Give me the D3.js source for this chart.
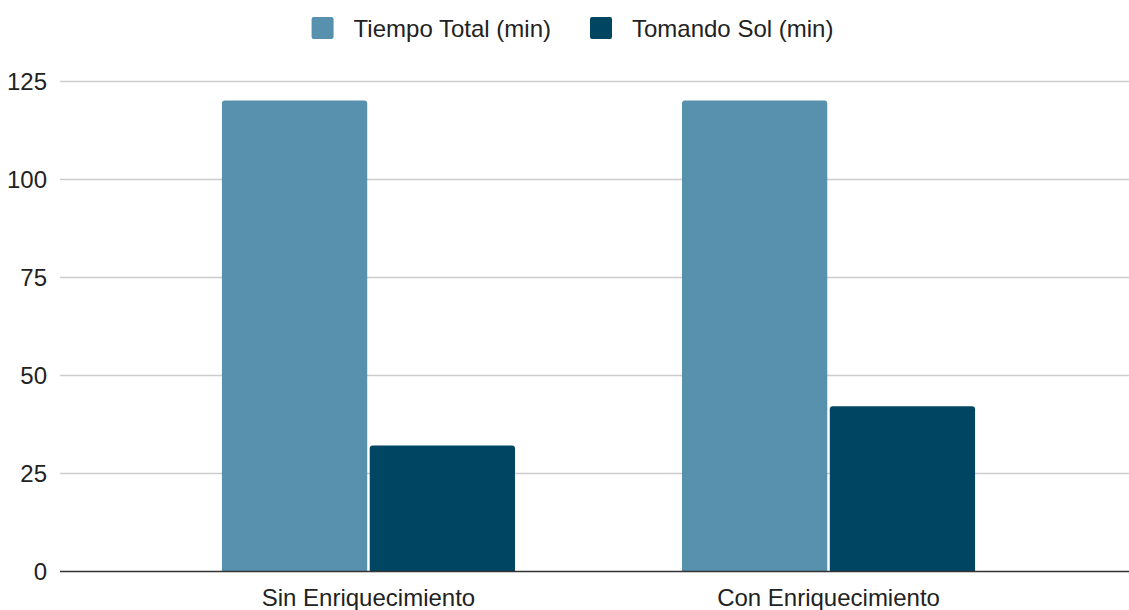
<!DOCTYPE html>
<html>
<head>
<meta charset="utf-8">
<script src="https://cdn.jsdelivr.net/npm/d3@7"></script>
<style>
  body { margin: 0; background: #fff; }
  text { font-family: Arial, "Liberation Sans", sans-serif; fill: #222; }
</style>
</head>
<body>
<div id="chart"></div>
<script>
// Chart data
const categories = ['Sin Enriquecimiento', 'Con Enriquecimiento'];
const seriesNames = ['Tiempo Total (min)', 'Tomando Sol (min)'];
const tiempoTotal = [120, 120];
const tomandoSol = [32, 42];
const yTicks = [0, 25, 50, 75, 100, 125];

const colors = ['#5891ad', '#004561'];
const width = 1129, height = 610;
const fontSize = 24;

const svg = d3.select('#chart').append('svg')
  .attr('width', width)
  .attr('height', height);

const rows = categories.map((c, i) => ({ cat: c, values: [tiempoTotal[i], tomandoSol[i]] }));

const y = d3.scaleLinear().domain([0, 125]).range([571, 81]);

const x0 = d3.scaleBand()
  .domain(categories)
  .range([60, 1137])
  .paddingInner(0.363)
  .paddingOuter(0.352);

const x1 = d3.scaleBand()
  .domain(seriesNames)
  .range([0, x0.bandwidth()])
  .paddingInner(0.017);

// gridlines
svg.append('g')
  .selectAll('line')
  .data(yTicks.filter(d => d > 0))
  .join('line')
  .attr('x1', 60).attr('x2', width)
  .attr('y1', d => Math.round(y(d)) + 0.5)
  .attr('y2', d => Math.round(y(d)) + 0.5)
  .attr('stroke', '#cccccc')
  .attr('stroke-width', 1.3);

// y tick labels
svg.append('g')
  .selectAll('text')
  .data(yTicks)
  .join('text')
  .attr('x', 47)
  .attr('y', d => y(d) + 8.5)
  .attr('text-anchor', 'end')
  .attr('font-size', fontSize)
  .text(d => d);

// bars (rounded top corners)
const r = 3;
function barPath(x, y0, w, yTop) {
  return `M${x},${y0}V${yTop + r}Q${x},${yTop} ${x + r},${yTop}H${x + w - r}Q${x + w},${yTop} ${x + w},${yTop + r}V${y0}Z`;
}

const groups = svg.append('g')
  .selectAll('g')
  .data(rows)
  .join('g')
  .attr('transform', d => `translate(${x0(d.cat)},0)`);

groups.selectAll('path')
  .data(d => d.values.map((v, i) => ({ key: seriesNames[i], v, i })))
  .join('path')
  .attr('d', d => barPath(x1(d.key), y(0), x1.bandwidth(), y(d.v)))
  .attr('fill', d => colors[d.i]);

// baseline
svg.append('line')
  .attr('x1', 60).attr('x2', width)
  .attr('y1', 571.5).attr('y2', 571.5)
  .attr('stroke', '#333')
  .attr('stroke-width', 1.5);

// x labels
svg.append('g')
  .selectAll('text')
  .data(categories)
  .join('text')
  .attr('x', d => x0(d) + x0.bandwidth() / 2)
  .attr('y', 606)
  .attr('text-anchor', 'middle')
  .attr('font-size', fontSize)
  .text(d => d);

// legend
const legend = svg.append('g');
let lx = 0;
seriesNames.forEach((name, i) => {
  const g = legend.append('g').attr('transform', `translate(${lx},0)`);
  g.append('rect')
    .attr('x', 0).attr('y', 17)
    .attr('width', 22).attr('height', 22)
    .attr('rx', 2)
    .attr('fill', colors[i]);
  const t = g.append('text')
    .attr('x', 42).attr('y', 37)
    .attr('font-size', fontSize)
    .text(name);
  lx += 42 + t.node().getComputedTextLength() + 39;
});
const lw = lx - 39;
legend.attr('transform', `translate(${(width - lw) / 2 + 8},0)`);
</script>
</body>
</html>
